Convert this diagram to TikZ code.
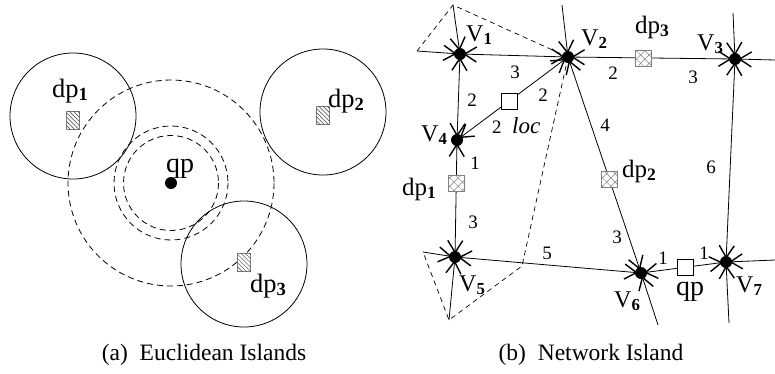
\documentclass[tikz,border=0pt]{standalone}
\usepackage{fontspec}
\setmainfont{Liberation Serif}
\usetikzlibrary{arrows.meta,patterns.meta}
\newcommand{\sublab}[2]{#1\textsubscript{\textbf{#2}}}
\tikzset{
  barb/.tip={Straight Barb[length=12pt,width=15pt,line width=1.4pt]},
  vtx/.style={circle,fill=black,inner sep=0pt,minimum size=12pt},
  qdot/.style={circle,fill=black,inner sep=0pt,minimum size=12pt},
  road/.style={line width=0.8pt,barb-barb,shorten >=-3pt,shorten <=-3pt},
  stub/.style={line width=0.8pt,-barb,shorten >=-3pt},
  island/.style={line width=0.7pt,dash pattern=on 5pt off 4pt},
  ring/.style={line width=0.8pt},
  reach/.style={line width=0.8pt,dash pattern=on 6pt off 4pt},
  hatchbox/.style={draw=gray,fill=white,line width=0.7pt,minimum width=13pt,minimum height=18pt,inner sep=0pt,
    postaction={pattern={Lines[angle=-45,distance=3pt,line width=0.5pt]},pattern color=darkgray}},
  crossbox/.style={draw=gray,fill=white,line width=0.7pt,minimum size=16pt,inner sep=0pt,
    postaction={pattern={Hatch[angle=45,distance=6pt,line width=0.5pt]},pattern color=gray}},
  plainbox/.style={draw=black,fill=white,line width=0.7pt,minimum size=16pt,inner sep=0pt},
  lbl/.style={inner sep=0pt,anchor=base west,font=\fontsize{25}{28}\selectfont},
  wgt/.style={inner sep=0pt,font=\fontsize{19}{22}\selectfont},
  capt/.style={inner sep=0pt,font=\fontsize{23.5}{26}\selectfont}
}
\begin{document}
\begin{tikzpicture}[x=1pt,y=-1pt]
  \useasboundingbox (0,0) rectangle (775,373);

  % (a) Euclidean islands
  \draw[ring] (73,116) circle[radius=63];
  \draw[ring] (323,112) circle[radius=63];
  \draw[ring] (244,264) circle[radius=63];
  \node (qpa) [qdot] at (171,183) {};
  \draw[reach] (qpa) circle[radius=103];
  \draw[reach] (qpa) circle[radius=57];
  \draw[reach] (qpa) circle[radius=47.5];
  \node (dpa1) [hatchbox] at (73,120) {};
  \node (dpa2) [hatchbox] at (323,115) {};
  \node (dpa3) [hatchbox] at (244,262) {};
  \node (ldpa1) [lbl,font=\fontsize{26.5}{28}\selectfont] at (52,97) {\sublab{dp}{1}};
  \node (ldpa2) [lbl,font=\fontsize{26.5}{28}\selectfont] at (328,107) {\sublab{dp}{2}};
  \node (ldpa3) [lbl,font=\fontsize{26.5}{28}\selectfont] at (250,292) {\sublab{dp}{3}};
  \node (lqpa) [lbl,font=\fontsize{28}{30}\selectfont] at (166,172) {qp};

  % (b) network island
  \node (v1) [vtx] at (460,54) {};
  \node (v2) [vtx] at (568,57) {};
  \node (v3) [vtx] at (735,59) {};
  \node (v4) [vtx] at (457,140) {};
  \node (v5) [vtx] at (455,257) {};
  \node (v6) [vtx] at (641,273) {};
  \node (v7) [vtx] at (726,262) {};
  \coordinate (s1w) at (417,51);
  \coordinate (s1n) at (453,5);
  \coordinate (s2n) at (562,5);
  \coordinate (s3n) at (733,13);
  \coordinate (s3e) at (775,60);
  \coordinate (s5w) at (423,252);
  \coordinate (s5s) at (449,320);
  \coordinate (s6s) at (658,325);
  \coordinate (s7e) at (775,260);
  \coordinate (s7s) at (729,323);
  \coordinate (cut) at (522,266);

  \draw[island] (s1w) -- (s1n) -- (v2.center);
  \draw[island] (v2.center) -- (cut) -- (s5s) -- (s5w);

  \draw[road] (v1) -- (v2);
  \draw[road] (v2) -- (v3);
  \draw[road] (v1) -- (v4);
  \draw[road] (v2) -- (v4);
  \draw[road] (v2) -- (v6);
  \draw[road] (v4) -- (v5);
  \draw[road] (v5) -- (v6);
  \draw[road] (v6) -- (v7);
  \draw[road] (v3) -- (v7);
  \draw[stub] (s1w) -- (v1);
  \draw[stub] (s1n) -- (v1);
  \draw[stub] (s2n) -- (v2);
  \draw[stub] (s3n) -- (v3);
  \draw[stub] (s3e) -- (v3);
  \draw[stub] (s5w) -- (v5);
  \draw[stub] (s5s) -- (v5);
  \draw[stub] (s6s) -- (v6);
  \draw[stub] (s7e) -- (v7);
  \draw[stub] (s7s) -- (v7);

  \node (dpn3) [crossbox] at (643,58) {};
  \node (dpn2) [crossbox] at (609,179) {};
  \node (dpn1) [crossbox] at (456,183) {};
  \node (loc) [plainbox] at (509,101) {};
  \node (qpn) [plainbox] at (685,267) {};

  \node (lv1) [lbl,font=\fontsize{24}{26}\selectfont] at (466,41) {\sublab{V}{1}};
  \node (lv2) [lbl,font=\fontsize{24}{26}\selectfont] at (581,45) {\sublab{V}{2}};
  \node (lv3) [lbl,font=\fontsize{24}{26}\selectfont] at (697,50) {\sublab{V}{3}};
  \node (lv4) [lbl,font=\fontsize{24}{26}\selectfont] at (421,141) {\sublab{V}{4}};
  \node (lv5) [lbl,font=\fontsize{24}{26}\selectfont] at (459,291) {\sublab{V}{5}};
  \node (lv6) [lbl,font=\fontsize{24}{26}\selectfont] at (614,307) {\sublab{V}{6}};
  \node (lv7) [lbl,font=\fontsize{24}{26}\selectfont] at (736,292) {\sublab{V}{7}};
  \node (ldpn3) [lbl] at (635,33) {\sublab{dp}{3}};
  \node (ldpn2) [lbl] at (622,177) {\sublab{dp}{2}};
  \node (ldpn1) [lbl] at (402,195) {\sublab{dp}{1}};
  \node (lloc) [lbl,font=\fontsize{23}{26}\itshape] at (512,133) {loc};
  \node (lqpn) [lbl,font=\fontsize{28}{30}\selectfont] at (676,295) {qp};

  \node (w12) [wgt] at (515,72) {3};
  \node (w14) [wgt] at (472,100) {2};
  \node (w24a) [wgt] at (543,95) {2};
  \node (w24b) [wgt,anchor=base west] at (492,133) {2};
  \node (w23a) [wgt] at (613,73) {2};
  \node (w23b) [wgt] at (693,77) {3};
  \node (w26a) [wgt] at (605,125) {4};
  \node (w26b) [wgt] at (617,237) {3};
  \node (w45a) [wgt] at (475,163) {1};
  \node (w45b) [wgt] at (473,222) {3};
  \node (w56) [wgt] at (547,253) {5};
  \node (w67a) [wgt] at (663,258) {1};
  \node (w67b) [wgt] at (704,253) {1};
  \node (w37) [wgt] at (711,167) {6};

  % captions
  \node (capa) [capt] at (204,355) {(a)\ \ Euclidean Islands};
  \node (capb) [capt] at (591,355) {(b)\ \ Network Island};
\end{tikzpicture}
\end{document}
